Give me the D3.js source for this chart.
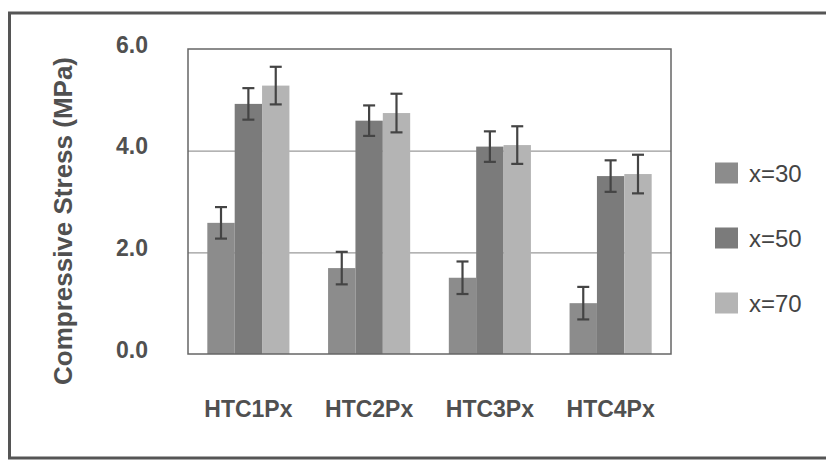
<!DOCTYPE html>
<html>
<head>
<meta charset="utf-8">
<script src="https://cdn.jsdelivr.net/npm/d3@7"></script>
<style>
  body { margin: 0; background: #fff; }
  svg { display: block; font-family: 'Liberation Sans', Arial, sans-serif; }
</style>
</head>
<body>
<div id="chart"></div>
<script>
const categories = ['HTC1Px', 'HTC2Px', 'HTC3Px', 'HTC4Px'];
const seriesNames = ['x=30', 'x=50', 'x=70'];
const x30 = [2.58, 1.69, 1.50, 1.00];
const x50 = [4.92, 4.59, 4.08, 3.50];
const x70 = [5.28, 4.74, 4.11, 3.54];
const err30 = [0.31, 0.32, 0.32, 0.32];
const err50 = [0.31, 0.30, 0.30, 0.31];
const err70 = [0.37, 0.38, 0.37, 0.38];
const yTicks = [0, 2, 4, 6];
const yTitle = 'Compressive Stress (MPa)';

const colors = ['#8c8c8c', '#7b7b7b', '#b4b4b4'];
const values = [x30, x50, x70];
const errors = [err30, err50, err70];

const width = 826, height = 461;
const plot = { left: 188, right: 671, top: 49, bottom: 354 };

const svg = d3
  .select('#chart')
  .append('svg')
  .attr('width', width)
  .attr('height', height);

// outer frame (runs off the right edge like the scan)
svg
  .append('rect')
  .attr('x', 9.5)
  .attr('y', 13)
  .attr('width', 840)
  .attr('height', 445)
  .attr('fill', 'none')
  .attr('stroke', '#555')
  .attr('stroke-width', 3);

const x = d3
  .scaleBand()
  .domain(categories)
  .range([plot.left, plot.right])
  .paddingInner(0.32)
  .paddingOuter(0.16);

const xs = d3.scaleBand().domain(seriesNames).range([0, x.bandwidth()]);

const y = d3.scaleLinear().domain([0, 6]).range([plot.bottom, plot.top]);

// gridlines
svg
  .append('g')
  .attr('transform', `translate(${plot.left},0)`)
  .call(
    d3
      .axisLeft(y)
      .tickValues([2, 4])
      .tickSize(-(plot.right - plot.left))
      .tickFormat('')
  )
  .call((g) => g.select('.domain').remove())
  .selectAll('line')
  .attr('stroke', '#9a9a9a')
  .attr('stroke-width', 1.2);

// bars
const rows = [];
categories.forEach((c, i) => {
  seriesNames.forEach((s, j) => {
    rows.push({ cat: c, s, v: values[j][i], e: errors[j][i], color: colors[j] });
  });
});

svg
  .append('g')
  .selectAll('rect')
  .data(rows)
  .join('rect')
  .attr('x', (d) => x(d.cat) + xs(d.s))
  .attr('y', (d) => y(d.v))
  .attr('width', xs.bandwidth())
  .attr('height', (d) => y(0) - y(d.v))
  .attr('fill', (d) => d.color);

// plot frame
svg
  .append('rect')
  .attr('x', plot.left)
  .attr('y', plot.top)
  .attr('width', plot.right - plot.left)
  .attr('height', plot.bottom - plot.top)
  .attr('fill', 'none')
  .attr('stroke', '#666')
  .attr('stroke-width', 1.5);

// error bars
const eb = svg
  .append('g')
  .attr('stroke', '#444')
  .attr('stroke-width', 2.2)
  .selectAll('g')
  .data(rows)
  .join('g')
  .attr('transform', (d) => `translate(${x(d.cat) + xs(d.s) + xs.bandwidth() / 2},0)`);
eb.append('line')
  .attr('y1', (d) => y(d.v + d.e))
  .attr('y2', (d) => y(d.v - d.e));
eb.append('line')
  .attr('x1', -6).attr('x2', 6)
  .attr('y1', (d) => y(d.v + d.e))
  .attr('y2', (d) => y(d.v + d.e));
eb.append('line')
  .attr('x1', -6).attr('x2', 6)
  .attr('y1', (d) => y(d.v - d.e))
  .attr('y2', (d) => y(d.v - d.e));

// y axis labels
const yAxis = svg
  .append('g')
  .attr('transform', `translate(${plot.left},0)`)
  .call(d3.axisLeft(y).tickValues(yTicks).tickSize(0).tickPadding(40).tickFormat(d3.format('.1f')));
yAxis.select('.domain').remove();
yAxis
  .selectAll('text')
  .attr('dy', '0.14em')
  .attr('fill', '#505050')
  .style('font-size', '23px')
  .style('font-weight', 'bold')
  .style('font-family', "'Liberation Sans', Arial, sans-serif");

// x axis labels
const xAxis = svg
  .append('g')
  .attr('transform', `translate(0,${plot.bottom})`)
  .call(d3.axisBottom(x).tickSize(0).tickPadding(47));
xAxis.select('.domain').remove();
xAxis
  .selectAll('text')
  .attr('fill', '#505050')
  .style('font-size', '23px')
  .style('font-weight', 'bold')
  .style('font-family', "'Liberation Sans', Arial, sans-serif");

// y title
svg
  .append('text')
  .attr('transform', 'translate(72,221) rotate(-90)')
  .attr('text-anchor', 'middle')
  .attr('fill', '#505050')
  .style('font-size', '26px')
  .style('font-weight', 'bold')
  .text(yTitle);

// legend
const legend = svg
  .append('g')
  .selectAll('g')
  .data(seriesNames)
  .join('g')
  .attr('transform', (d, i) => `translate(715,${173 + i * 65})`);
legend
  .append('rect')
  .attr('y', -10.5)
  .attr('width', 23)
  .attr('height', 21)
  .attr('fill', (d, i) => colors[i]);
legend
  .append('text')
  .attr('x', 34)
  .attr('y', 9)
  .attr('fill', '#444')
  .style('font-size', '24px')
  .text((d) => d);
</script>
</body>
</html>
